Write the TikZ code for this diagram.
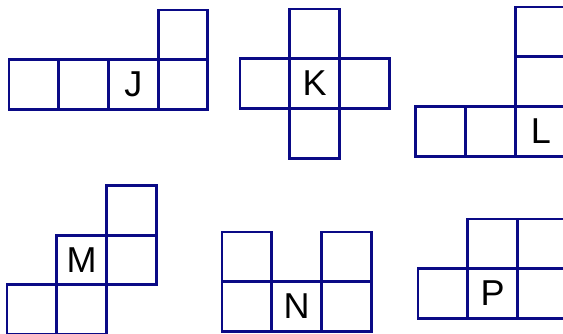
\documentclass[tikz,border=0pt]{standalone}
\usepackage{fontspec}
\setmainfont{Liberation Sans}
\usepackage{tikz}

\begin{document}
\begin{tikzpicture}[x=0.75pt,y=-0.75pt]
\definecolor{netBlue}{HTML}{0A0A86}
\tikzset{cell/.style={draw=netBlue,line width=2.2pt},
  letter/.style={font=\fontsize{27}{30}\selectfont,inner sep=0pt}}
\def\cs{49.7}
\useasboundingbox (0,0) rectangle (563,334);
\clip (0,0) rectangle (563,334);
% J
\foreach \c/\r in {0/1,1/1,2/1,3/1,3/0}
  \draw[cell] ({9+\c*\cs},{10+\r*\cs}) rectangle ++(\cs,\cs);
\node[letter] (J) at ({9+2.5*\cs},{10+1.5*\cs}) {J};
% K
\foreach \c/\r in {1/0,0/1,1/1,2/1,1/2}
  \draw[cell] ({240+\c*\cs},{9+\r*\cs}) rectangle ++(\cs,\cs);
\node[letter] (K) at ({240+1.5*\cs},{9+1.5*\cs}) {K};
% L
\foreach \c/\r in {0/2,1/2,2/2,2/1,2/0}
  \draw[cell] ({415.5+\c*50.2},{7+\r*\cs}) rectangle ++(50.2,\cs);
\node[letter] (L) at ({415.5+2.5*50.2},{7+2.5*\cs}) {L};
% M
\foreach \c/\r in {2/0,1/1,2/1,0/2,1/2}
  \draw[cell] ({7+\c*\cs},{185.5+\r*\cs}) rectangle ++(\cs,\cs);
\node[letter] (M) at ({7+1.5*\cs},{185.5+1.5*\cs}) {M};
% N
\foreach \c/\r in {0/0,2/0,0/1,1/1,2/1}
  \draw[cell] ({222+\c*\cs},{232+\r*\cs}) rectangle ++(\cs,\cs);
\node[letter] (N) at ({222+1.5*\cs},{232+1.5*\cs}) {N};
% P
\foreach \c/\r in {1/0,2/0,0/1,1/1,2/1}
  \draw[cell] ({418+\c*\cs},{219+\r*\cs}) rectangle ++(\cs,\cs);
\node[letter] (P) at ({418+1.5*\cs},{219+1.5*\cs}) {P};
\end{tikzpicture}
\end{document}
